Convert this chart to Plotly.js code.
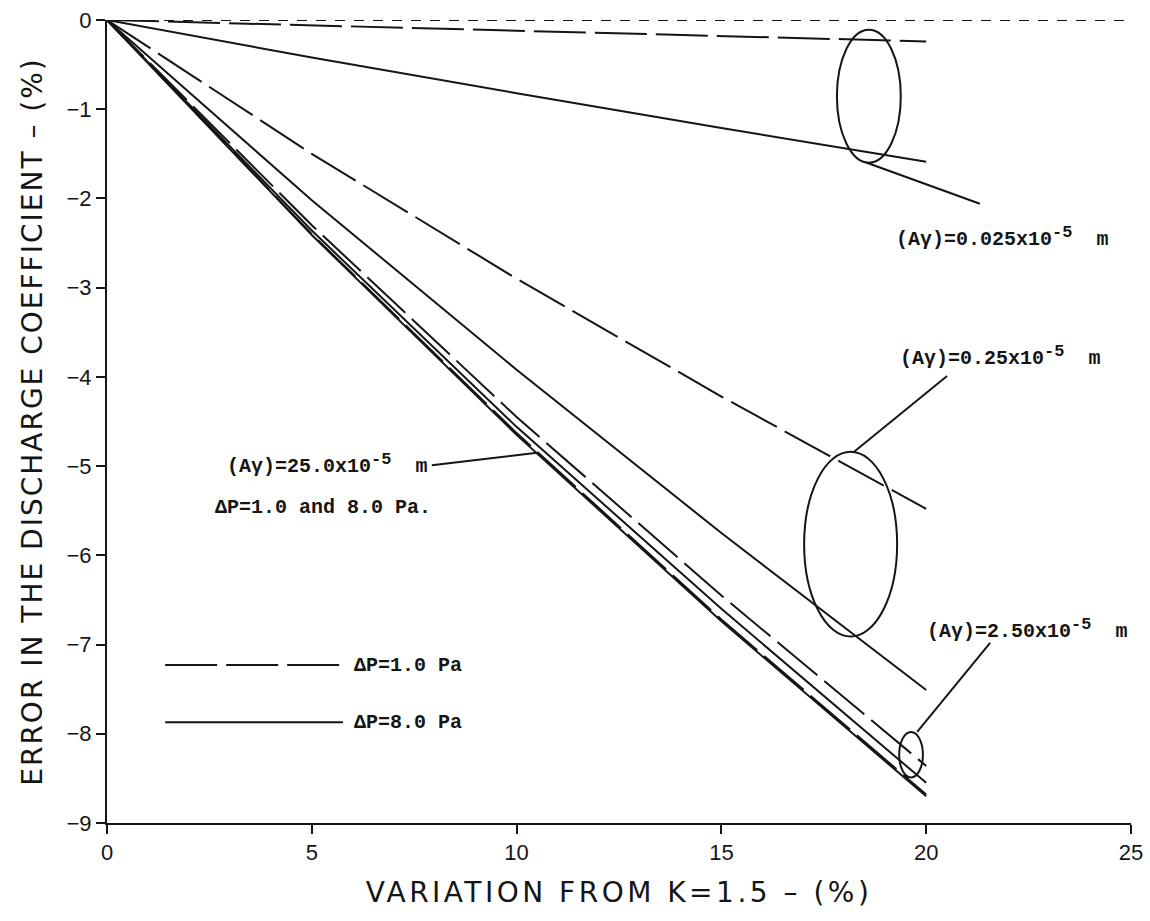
<!DOCTYPE html>
<html>
<head>
<meta charset="utf-8">
<script src="https://cdn.plot.ly/plotly-3.0.1.min.js"></script>
<style>
  html, body { margin: 0; padding: 0; background: #fff; }
  #chart { width: 1150px; height: 921px; }
</style>
</head>
<body>
<div id="chart"></div>
<script>
// Variation of K from 1.5 (%), sampled along each curve
const variationK = [0, 5, 10, 15, 20];

// Error in the discharge coefficient (%) for each (Aγ), ΔP = 1.0 Pa (dashed) and 8.0 Pa (solid)
const err_0025_dp1 = [0, -0.06, -0.12, -0.18, -0.24];
const err_0025_dp8 = [0, -0.42, -0.82, -1.21, -1.59];
const err_025_dp1  = [0, -1.50, -2.90, -4.22, -5.48];
const err_025_dp8  = [0, -2.02, -3.92, -5.75, -7.51];
const err_250_dp1  = [0, -2.30, -4.45, -6.45, -8.36];
const err_250_dp8  = [0, -2.36, -4.56, -6.60, -8.55];
const err_2500_dp1 = [0, -2.40, -4.63, -6.72, -8.68];
const err_2500_dp8 = [0, -2.41, -4.65, -6.74, -8.70];

// Axis ticks
const xTicks = [0, 5, 10, 15, 20, 25];
const yTicks = [0, -1, -2, -3, -4, -5, -6, -7, -8, -9];

const INK = '#151515';
const LONG_DASH = '52px,9px';
const SHORT_DASH = '10px,9px';

function curve(y, dashed) {
  return {
    x: variationK, y: y, type: 'scatter', mode: 'lines',
    line: { color: INK, width: 2, dash: dashed ? LONG_DASH : 'solid' },
    hoverinfo: 'skip', showlegend: false
  };
}

const traces = [
  curve(err_0025_dp1, true), curve(err_0025_dp8, false),
  curve(err_025_dp1, true),  curve(err_025_dp8, false),
  curve(err_250_dp1, true),  curve(err_250_dp8, false),
  curve(err_2500_dp1, true), curve(err_2500_dp8, false)
];

const labelFont = { family: 'Liberation Mono, Courier New, monospace', size: 20, color: INK, weight: 'bold' };
const tickFont = { family: 'Liberation Sans, Arial, sans-serif', size: 22, color: INK };
const titleFont = { family: 'DejaVu Sans, Liberation Sans, Arial, sans-serif', size: 28, color: INK };

const EXP = '<sup><span style="font-size:17px">-5</span></sup>';

function spaced(text, px) {
  return '<span style="letter-spacing:' + px + 'px">' + text + '</span>';
}
function label(x, y, text) {
  return { x: x, y: y, xref: 'x', yref: 'y', text: text, showarrow: false,
           xanchor: 'left', yanchor: 'middle', font: labelFont };
}
function seg(x0, y0, x1, y1, dash) {
  return { type: 'line', xref: 'x', yref: 'y', x0: x0, y0: y0, x1: x1, y1: y1,
           line: { color: INK, width: 2, dash: dash || 'solid' } };
}
function ring(x0, y0, x1, y1) {
  return { type: 'circle', xref: 'x', yref: 'y', x0: x0, y0: y0, x1: x1, y1: y1,
           line: { color: INK, width: 2 } };
}

const shapes = [
  // zero reference line
  { type: 'line', xref: 'paper', yref: 'y', x0: 0, x1: 1, y0: 0, y1: 0,
    line: { color: INK, width: 2, dash: SHORT_DASH } },
  // groupings of the ΔP pairs
  ring(17.82, -0.11, 19.38, -1.60),
  ring(17.02, -4.84, 19.29, -6.91),
  ring(19.34, -7.98, 19.92, -8.49),
  // leaders to the labels
  seg(18.55, -1.60, 21.31, -2.06),
  seg(18.24, -4.84, 20.51, -3.99),
  seg(19.78, -7.98, 21.56, -6.98),
  seg(7.93, -4.99, 10.50, -4.85),
  // key
  seg(1.42, -7.23, 5.76, -7.23, LONG_DASH),
  seg(1.42, -7.87, 5.76, -7.87)
];

const annotations = [
  label(19.22, -2.43, '(Aγ)=0.025x10' + EXP + '  m'),
  label(19.31, -3.77, '(Aγ)=0.25x10' + EXP + '  m'),
  label(19.97, -6.83, '(Aγ)=2.50x10' + EXP + '  m'),
  label(2.88, -4.98, '(Aγ)=25.0x10' + EXP + '  m'),
  label(2.58, -5.46, 'ΔP=1.0 and 8.0 Pa.'),
  label(5.98, -7.23, 'ΔP=1.0 Pa'),
  label(5.98, -7.87, 'ΔP=8.0 Pa')
];

const layout = {
  width: 1150, height: 921,
  margin: { l: 107, r: 19, t: 20, b: 98 },
  paper_bgcolor: '#fff', plot_bgcolor: '#fff',
  showlegend: false,
  xaxis: {
    range: [0, 25], tickvals: xTicks, ticktext: xTicks.map(String),
    showgrid: false, zeroline: false, showline: true, linecolor: INK, linewidth: 2,
    ticks: 'outside', ticklen: 9, tickwidth: 2, tickcolor: INK, tickfont: tickFont,
    title: { text: spaced('VARIATION FROM K=1.5 – (%)', 3.5), font: titleFont, standoff: 18 }
  },
  yaxis: {
    range: [-9, 0], tickvals: yTicks,
    showgrid: false, zeroline: false, showline: true, linecolor: INK, linewidth: 2,
    ticks: 'outside', ticklen: 9, tickwidth: 2, tickcolor: INK, tickfont: tickFont,
    title: { text: spaced('ERROR IN THE DISCHARGE COEFFICIENT – (%)', 2), font: titleFont, standoff: 16 }
  },
  shapes: shapes,
  annotations: annotations
};

Plotly.newPlot('chart', traces, layout, { staticPlot: true, displayModeBar: false });
</script>
</body>
</html>
